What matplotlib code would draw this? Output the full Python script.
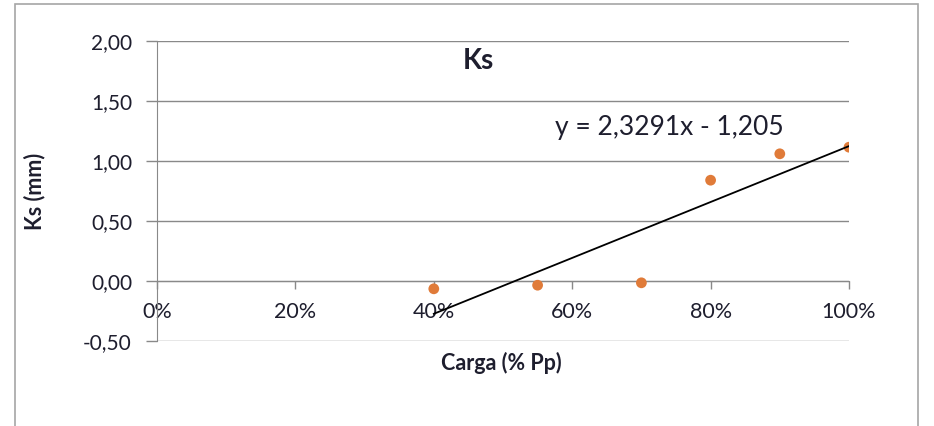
import matplotlib.pyplot as plt
from matplotlib.patches import Rectangle
from matplotlib.ticker import FuncFormatter

plt.rcParams['font.family'] = ['Lato', 'DejaVu Sans']

carga = [0.40, 0.55, 0.70, 0.80, 0.90, 1.00]
ks = [-0.065, -0.035, -0.015, 0.84, 1.06, 1.115]
slope = 2.3291
intercept = -1.205
x_ticks = [0, 0.2, 0.4, 0.6, 0.8, 1.0]
y_ticks = [-0.5, 0, 0.5, 1.0, 1.5, 2.0]

fig = plt.figure(figsize=(9.34, 4.26), dpi=100)
# outer chart border (Excel style)
fig.patches.append(Rectangle((15 / 934, -0.1), 903 / 934, 1.1 - 4 / 426,
                             transform=fig.transFigure, fill=False,
                             edgecolor='#a6a6a6', lw=1.2))

ax = fig.add_axes([157 / 934, 1 - 341 / 426, 692 / 934, 300 / 426])
grey = '#898989'
txt = '#1e1e2e'

ax.scatter(carga, ks, s=60, color='#e07b39', zorder=3, edgecolors='none')
x_fit = [min(carga), max(carga)]
ax.plot(x_fit, [slope * v + intercept for v in x_fit], color='black', lw=1.3, zorder=4)

ax.set_xlim(0, 1)
ax.set_ylim(-0.5, 2.0)
ax.set_xticks(x_ticks)
ax.set_yticks(y_ticks)
ax.xaxis.set_major_formatter(FuncFormatter(lambda v, p: f"{v * 100:.0f}%"))
ax.yaxis.set_major_formatter(FuncFormatter(lambda v, p: f"{v:.2f}".replace('.', ',')))

for s in ['top', 'right']:
    ax.spines[s].set_visible(False)
ax.spines['bottom'].set_position(('data', 0))
ax.spines['bottom'].set_color(grey)
ax.spines['left'].set_color(grey)
ax.spines['bottom'].set_zorder(1)
ax.tick_params(axis='x', colors=grey, length=6, width=1, labelcolor=txt,
               labelsize=15.5, pad=9)
ax.tick_params(axis='y', colors=grey, length=8, width=1, labelcolor=txt,
               labelsize=15, pad=10)
ax.grid(axis='y', color=grey, lw=1)
ax.set_axisbelow(True)

ax.text(0.465, 1.83, 'Ks', fontsize=20, fontweight='bold', ha='center', va='center',
        color=txt)
ax.text(0.741, 1.275, 'y = 2,3291x - 1,205', fontsize=19, ha='center', va='center',
        color=txt)

fig.text(501 / 934, 1 - 363 / 426, 'Carga (% Pp)', fontsize=15.5, fontweight='bold',
         ha='center', va='center', color=txt)
fig.text(35 / 934, 1 - 191 / 426, 'Ks (mm)', fontsize=15.5, fontweight='bold',
         rotation=90, ha='center', va='center', color=txt)

fig.savefig('out.png', dpi=100)
